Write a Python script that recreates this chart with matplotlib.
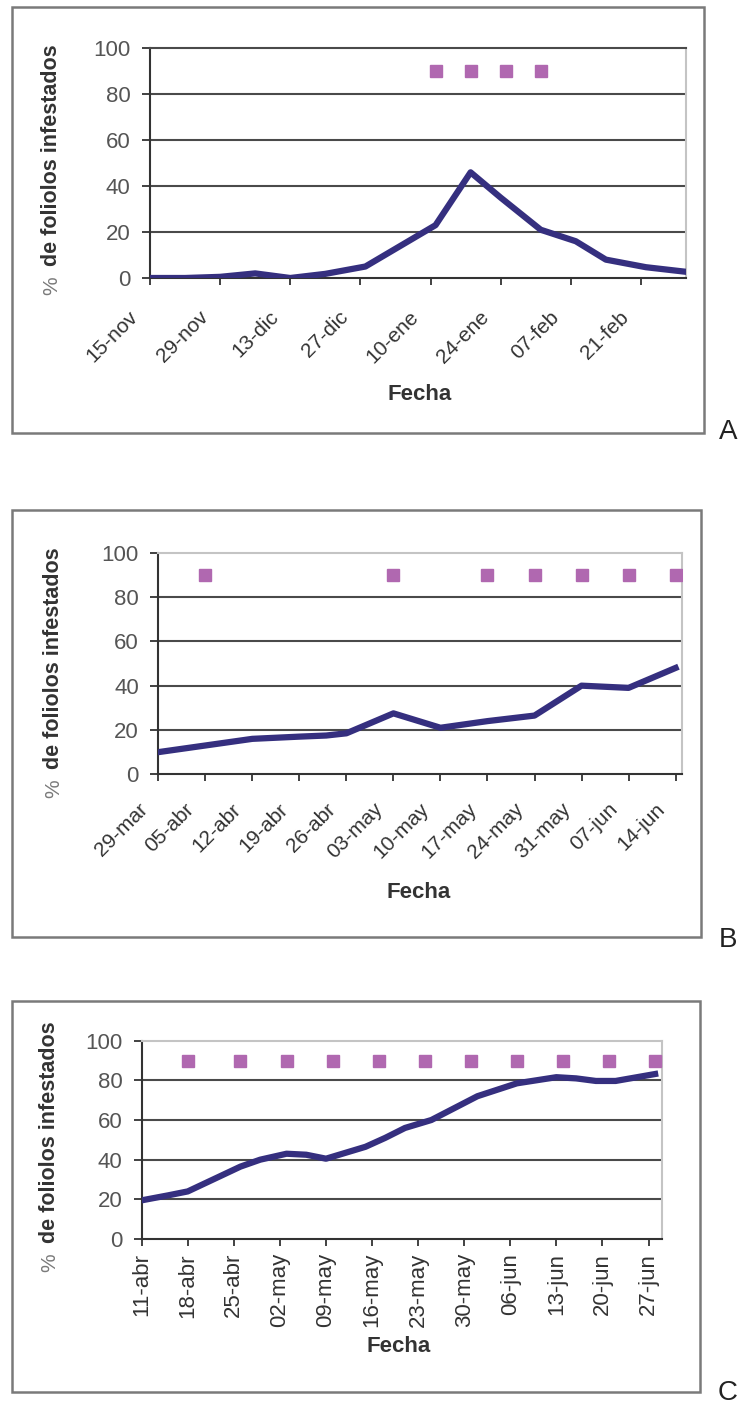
import numpy as np
import matplotlib
matplotlib.use("Agg")
import matplotlib.pyplot as plt
from matplotlib.patches import Rectangle

plt.rcParams['font.family'] = ['Liberation Sans', 'DejaVu Sans']

W, H = 740, 1404

# --- panel A: nov - mar ---
a_dates = ['2002-11-15', '2002-11-22', '2002-11-29', '2002-12-06', '2002-12-13', '2002-12-20',
           '2002-12-28', '2003-01-04', '2003-01-11', '2003-01-18', '2003-01-24', '2003-02-01',
           '2003-02-08', '2003-02-14', '2003-02-22', '2003-03-02']
a_vals = [0, 0, 0.5, 2, 0, 1.8, 5, 14, 23, 46, 35, 21, 16, 8, 4.7, 2.7]
a_mark_dates = ['2003-01-11', '2003-01-18', '2003-01-25', '2003-02-01']
a_mark_vals = [90, 90, 90, 90]
a_ticks = ['2002-11-15', '2002-11-29', '2002-12-13', '2002-12-27', '2003-01-10', '2003-01-24',
           '2003-02-07', '2003-02-21']
a_labels = ['15-nov', '29-nov', '13-dic', '27-dic', '10-ene', '24-ene', '07-feb', '21-feb']

# --- panel B: mar - jun ---
b_dates = ['2003-03-29', '2003-04-05', '2003-04-12', '2003-04-19', '2003-04-23', '2003-04-26',
           '2003-05-03', '2003-05-10', '2003-05-17', '2003-05-24', '2003-05-31', '2003-06-07',
           '2003-06-14']
b_vals = [10, 13, 16, 17, 17.5, 18.5, 27.5, 21, 24, 26.5, 40, 39, 48]
b_mark_dates = ['2003-04-05', '2003-05-03', '2003-05-17', '2003-05-24', '2003-05-31',
                '2003-06-07', '2003-06-14']
b_mark_vals = [90, 90, 90, 90, 90, 90, 90]
b_ticks = ['2003-03-29', '2003-04-05', '2003-04-12', '2003-04-19', '2003-04-26', '2003-05-03',
           '2003-05-10', '2003-05-17', '2003-05-24', '2003-05-31', '2003-06-07', '2003-06-14']
b_labels = ['29-mar', '05-abr', '12-abr', '19-abr', '26-abr', '03-may', '10-may', '17-may',
            '24-may', '31-may', '07-jun', '14-jun']

# --- panel C: abr - jun ---
c_dates = ['2003-04-11', '2003-04-15', '2003-04-18', '2003-04-26', '2003-04-29', '2003-05-03',
           '2003-05-06', '2003-05-09', '2003-05-15', '2003-05-18', '2003-05-21', '2003-05-25',
           '2003-06-01', '2003-06-07', '2003-06-13', '2003-06-16', '2003-06-19', '2003-06-22',
           '2003-06-28']
c_vals = [19.5, 22, 24, 36.5, 40, 43, 42.5, 40.5, 46.5, 51, 56, 60, 72, 78.5, 81.6, 81,
          79.7, 79.7, 83.2]
c_mark_dates = ['2003-04-18', '2003-04-26', '2003-05-03', '2003-05-10', '2003-05-17',
                '2003-05-24', '2003-05-31', '2003-06-07', '2003-06-14', '2003-06-21',
                '2003-06-28']
c_mark_vals = [90] * 11
c_ticks = ['2003-04-11', '2003-04-18', '2003-04-25', '2003-05-02', '2003-05-09', '2003-05-16',
           '2003-05-23', '2003-05-30', '2003-06-06', '2003-06-13', '2003-06-20', '2003-06-27']
c_labels = ['11-abr', '18-abr', '25-abr', '02-may', '09-may', '16-may', '23-may', '30-may',
            '06-jun', '13-jun', '20-jun', '27-jun']

LINE = '#352f7f'
MARK = '#b068b0'
GRID = '#4a4a4a'


def fx(x):
    return x / W


def fy(y):
    return 1 - y / H


def axes_rect(l, t, r, b):
    return [l / W, 1 - b / H, (r - l) / W, (b - t) / H]


def day(s):
    return np.array(s, dtype='datetime64[D]')


def panel(fig, rect, dates, vals, mk_dates, mk_vals, ticks, labels, xlim, rot, fs, off, dark_top):
    ax = fig.add_axes(rect)
    ax.plot(day(dates), vals, color=LINE, lw=4.5, solid_joinstyle='round', zorder=3)
    ax.plot(day(mk_dates), mk_vals, ls='none', marker='s', ms=8.5, color=MARK, mec=MARK, zorder=4)
    ax.set_xlim(day(xlim[0]), day(xlim[1]))
    ax.set_ylim(0, 100)
    ax.set_yticks(range(0, 101, 20))
    for v in range(20, 100, 20):
        ax.axhline(v, color=GRID, lw=1.5, zorder=1)
    # date labels drawn by hand so they can sit a bit off the tick
    ax.set_xticks(day(ticks), [''] * len(ticks))
    for t, lab in zip(day(ticks), labels):
        ax.annotate(lab, xy=(t, 0), xycoords=('data', 'axes fraction'), xytext=off,
                    textcoords='offset pixels', rotation=rot, ha='right', va='center',
                    rotation_mode='anchor', fontsize=fs, color='#333333', annotation_clip=False)
    ax.tick_params(axis='x', length=5, width=1.3, color='#333333')
    ax.tick_params(axis='y', length=6, width=1.3, color='#333333', labelsize=16,
                   labelcolor='#555555', pad=8)
    for s in ('left', 'bottom'):
        ax.spines[s].set_color('#333333')
        ax.spines[s].set_linewidth(1.5)
    for s in ('top', 'right'):
        ax.spines[s].set_color('#c4c4c4')
        ax.spines[s].set_linewidth(1.5)
    if dark_top:
        ax.spines['top'].set_color(GRID)
    return ax


fig = plt.figure(figsize=(W / 100, H / 100), dpi=100)

# outer boxes around each chart
for l, t, r, b in [(12, 7, 704, 433), (12, 510, 701, 937), (12, 1001, 700, 1392)]:
    fig.add_artist(Rectangle((fx(l), fy(b)), (r - l) / W, (b - t) / H,
                             transform=fig.transFigure, fill=False, ec='#7a7a7a', lw=1.8))

panel(fig, axes_rect(150, 48.3, 686, 278), a_dates, a_vals, a_mark_dates, a_mark_vals,
      a_ticks, a_labels, ('2002-11-15', '2003-03-02'), 45, 15, (-15, -36), True)
panel(fig, axes_rect(158.3, 552.7, 682.3, 774.3), b_dates, b_vals, b_mark_dates, b_mark_vals,
      b_ticks, b_labels, ('2003-03-29', '2003-06-15'), 45, 15, (-14, -32), False)
panel(fig, axes_rect(141.7, 1040.7, 661.7, 1239), c_dates, c_vals, c_mark_dates, c_mark_vals,
      c_ticks, c_labels, ('2003-04-11', '2003-06-29'), 90, 16, (0, -14), False)

# y label: light "%" sign followed by the bold text
for x, y0 in [(52, 266), (54, 769), (50, 1243)]:
    fig.text(fx(x), fy(y0), 'de foliolos infestados', rotation=90, ha='center', va='bottom',
             fontsize=15.5, fontweight='bold', color='#333333')
    fig.text(fx(x), fy(y0 + 10), '%', rotation=90, ha='center', va='top',
             fontsize=15, color='#7a7a7a')

for x, y in [(420, 395), (419, 892), (399, 1347)]:
    fig.text(fx(x), fy(y), 'Fecha', ha='center', va='center', fontsize=16,
             fontweight='bold', color='#333333')

for txt, y in [('A', 432), ('B', 940), ('C', 1393)]:
    fig.text(fx(728), fy(y), txt, ha='center', va='center', fontsize=20, color='#222222')

fig.savefig('out.png', dpi=100)
